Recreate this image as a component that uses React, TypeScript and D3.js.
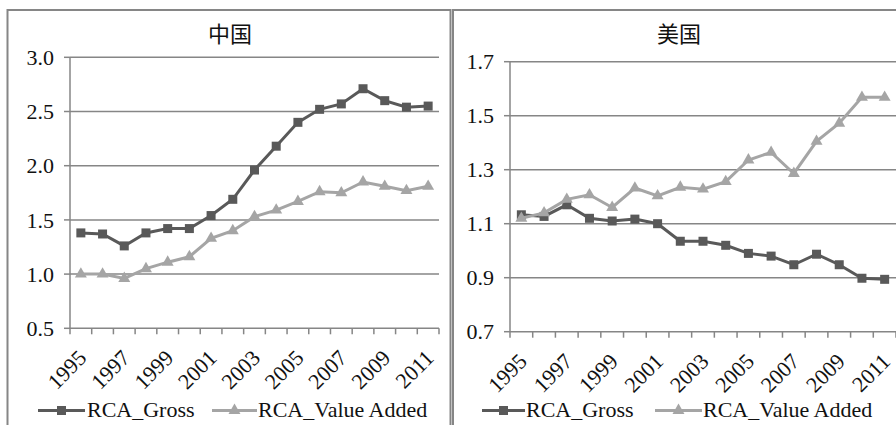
import React from "react";
import * as d3 from "d3";

const years = [
  "1995", "1996", "1997", "1998", "1999", "2000", "2001", "2002", "2003",
  "2004", "2005", "2006", "2007", "2008", "2009", "2010", "2011",
];
const yearLabels = ["1995", "1997", "1999", "2001", "2003", "2005", "2007", "2009", "2011"];

const chinaGross = [1.38, 1.37, 1.26, 1.38, 1.42, 1.42, 1.54, 1.69, 1.96, 2.18, 2.40, 2.52, 2.57, 2.71, 2.60, 2.54, 2.55];
const chinaValueAdded = [1.0, 1.0, 0.96, 1.05, 1.11, 1.16, 1.33, 1.40, 1.53, 1.59, 1.67, 1.76, 1.75, 1.85, 1.81, 1.77, 1.81];
const usGross = [1.133, 1.127, 1.17, 1.12, 1.11, 1.117, 1.10, 1.035, 1.035, 1.02, 0.99, 0.98, 0.948, 0.987, 0.948, 0.898, 0.894];
const usValueAdded = [1.12, 1.14, 1.19, 1.207, 1.16, 1.232, 1.203, 1.235, 1.228, 1.256, 1.336, 1.364, 1.286, 1.405, 1.472, 1.568, 1.568];

const chinaTicks = [0.5, 1.0, 1.5, 2.0, 2.5, 3.0];
const usTicks = [0.7, 0.9, 1.1, 1.3, 1.5, 1.7];

const seriesNames = ["RCA_Gross", "RCA_Value Added"];

const DARK = "#595959";
const LIGHT = "#a5a5a5";
const GRID = "#868686";
const serifStyle = { fontFamily: "Liberation Serif, Times New Roman, DejaVu Serif, serif" };
const cjkStyle = { fontFamily: "Noto Sans CJK SC, sans-serif", fontWeight: 400 };
const FS = 22;

type PanelProps = {
  title: string;
  titleX: number;
  gross: number[];
  valueAdded: number[];
  ticks: number[];
  x0: number;
  x1: number;
  yTop: number;
  yBottom: number;
  legend: { l1: [number, number]; t1: number; l2: [number, number]; t2: number };
};

function Panel(p: PanelProps) {
  const x = d3.scaleBand<string>().domain(years).range([p.x0, p.x1]).padding(0);
  const y = d3
    .scaleLinear()
    .domain([p.ticks[0], p.ticks[p.ticks.length - 1]])
    .range([p.yBottom, p.yTop]);
  const cx = (yr: string) => (x(yr) as number) + x.bandwidth() / 2;
  const line = d3
    .line<number>()
    .x((_, i) => cx(years[i]))
    .y((d) => y(d));
  const boundaries = years.map((yr) => x(yr) as number).concat([p.x1]);
  const tri = d3.symbol(d3.symbolTriangle, 62)();
  const fmt = d3.format(".1f");
  const legendY = 410.5;

  return (
    <g>
      <text x={p.titleX} y={42} textAnchor="middle" style={cjkStyle} fontSize={22} fill="#111">
        {p.title}
      </text>
      {/* horizontal gridlines */}
      {p.ticks.slice(1).map((t) => (
        <line key={t} x1={p.x0} x2={p.x1} y1={y(t)} y2={y(t)} stroke={GRID} strokeWidth={1.5} />
      ))}
      {/* value axis */}
      <line x1={p.x0} x2={p.x0} y1={p.yTop} y2={p.yBottom} stroke={GRID} strokeWidth={1.5} />
      {p.ticks.map((t) => (
        <g key={"yt" + t}>
          <line x1={p.x0 - 6} x2={p.x0} y1={y(t)} y2={y(t)} stroke={GRID} strokeWidth={1.5} />
          <text
            x={p.x0 - 16}
            y={y(t)}
            dy="0.35em"
            textAnchor="end"
            style={serifStyle}
            fontSize={FS}
            fill="#111"
          >
            {fmt(t)}
          </text>
        </g>
      ))}
      {/* category axis */}
      <line x1={p.x0} x2={p.x1} y1={p.yBottom} y2={p.yBottom} stroke={GRID} strokeWidth={1.5} />
      {boundaries.map((b, i) => (
        <line key={"xt" + i} x1={b} x2={b} y1={p.yBottom} y2={p.yBottom + 6} stroke={GRID} strokeWidth={1.5} />
      ))}
      {yearLabels.map((yr) => (
        <text
          key={yr}
          transform={`translate(${cx(yr) + 7},${p.yBottom + 31}) rotate(-45)`}
          textAnchor="end"
          style={serifStyle}
          fontSize={FS}
          fill="#111"
        >
          {yr}
        </text>
      ))}
      {/* series */}
      <path d={line(p.gross) as string} fill="none" stroke={DARK} strokeWidth={3} />
      {p.gross.map((v, i) => (
        <rect key={"g" + i} x={cx(years[i]) - 4.5} y={y(v) - 4.5} width={9} height={9} fill={DARK} />
      ))}
      <path d={line(p.valueAdded) as string} fill="none" stroke={LIGHT} strokeWidth={3} />
      {p.valueAdded.map((v, i) => (
        <path key={"v" + i} d={tri as string} transform={`translate(${cx(years[i])},${y(v)})`} fill={LIGHT} />
      ))}
      {/* legend */}
      <line x1={p.legend.l1[0]} x2={p.legend.l1[1]} y1={legendY} y2={legendY} stroke={DARK} strokeWidth={3} />
      <rect x={(p.legend.l1[0] + p.legend.l1[1]) / 2 - 4.5} y={legendY - 4.5} width={9} height={9} fill={DARK} />
      <text x={p.legend.t1} y={417} style={serifStyle} fontSize={FS} fill="#111">
        {seriesNames[0]}
      </text>
      <line x1={p.legend.l2[0]} x2={p.legend.l2[1]} y1={legendY} y2={legendY} stroke={LIGHT} strokeWidth={3} />
      <path d={tri as string} transform={`translate(${(p.legend.l2[0] + p.legend.l2[1]) / 2},${legendY})`} fill={LIGHT} />
      <text x={p.legend.t2} y={417} style={serifStyle} fontSize={FS} fill="#111">
        {seriesNames[1]}
      </text>
    </g>
  );
}

export default function App() {
  return (
    <svg
      width={896}
      height={425}
      style={{ position: "absolute", left: 0, top: 0, background: "#fff" }}
    >
      <rect x={0} y={0} width={896} height={425} fill="#fff" />
      {/* panel frames */}
      <rect x={7.5} y={10} width={443} height={430} fill="none" stroke={GRID} strokeWidth={2} />
      <rect x={453} y={10} width={460} height={430} fill="none" stroke={GRID} strokeWidth={2} />
      <Panel
        title="中国"
        titleX={230}
        gross={chinaGross}
        valueAdded={chinaValueAdded}
        ticks={chinaTicks}
        x0={70}
        x1={439}
        yTop={57.3}
        yBottom={328.3}
        legend={{ l1: [38, 85], t1: 87, l2: [212, 257], t2: 258 }}
      />
      <Panel
        title="美国"
        titleX={679}
        gross={usGross}
        valueAdded={usValueAdded}
        ticks={usTicks}
        x0={510}
        x1={896}
        yTop={61.7}
        yBottom={331.7}
        legend={{ l1: [482, 525], t1: 526, l2: [655, 702], t2: 703 }}
      />
    </svg>
  );
}
